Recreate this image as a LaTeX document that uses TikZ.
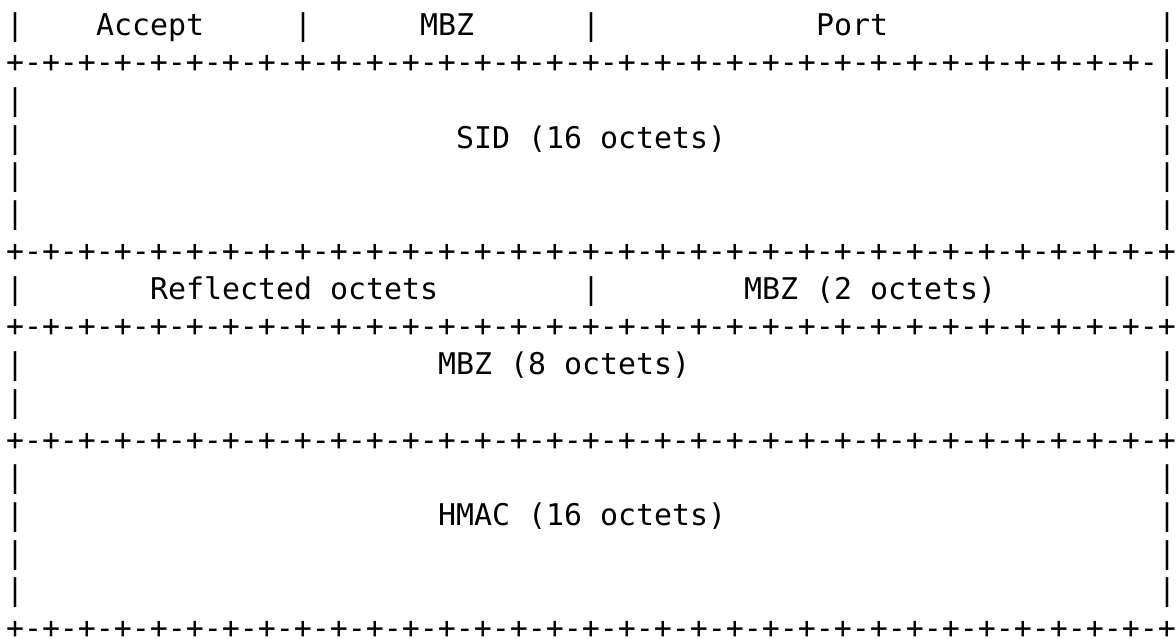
\documentclass[tikz,border=0pt]{standalone}
\usepackage{fontspec}
\newfontfamily\asciifont{DejaVu Sans Mono}
\newcommand\pdeight{+-+-+-+-+-+-+-+-}
\begin{document}
\begin{tikzpicture}[
  asc/.style={anchor=base west, inner sep=0pt, outer sep=0pt,
    font=\asciifont\fontsize{14.95pt}{18.87pt}\selectfont, text=black}
]
\useasboundingbox (0,0) rectangle (588pt,-319pt);
\begin{scope}[shift={(3pt,-17.5pt)}, x=9pt, y=-18.865pt]
  % vertical bars at the edges
  \foreach \r in {0,2,3,4,5,7,9,10,12,13,14,15} {
    \node[asc] (lb\r) at (0,\r) {|};
    \node[asc] (rb\r) at (64,\r) {|};
  }
  % row 0
  \node[asc] (accept) at (5,0) {Accept};
  \node[asc] (bar0a) at (16,0) {|};
  \node[asc] (mbzA) at (23,0) {MBZ};
  \node[asc] (bar0b) at (32,0) {|};
  \node[asc] (port) at (45,0) {Port};
  % row 1
  \node[asc] (sep1) at (0,1) {\pdeight\pdeight\pdeight\pdeight|};
  % SID
  \node[asc] (sid) at (25,3) {SID (16 octets)};
  \node[asc] (sep6) at (0,6) {\pdeight\pdeight\pdeight\pdeight+};
  % row 7
  \node[asc] (refl) at (8,7) {Reflected octets};
  \node[asc] (bar7) at (32,7) {|};
  \node[asc] (mbzB) at (41,7) {MBZ (2 octets)};
  \node[asc] (sep8) at (0,8) {\pdeight\pdeight\pdeight\pdeight+};
  % row 9
  \node[asc] (mbzC) at (24,9) {MBZ (8 octets)};
  \node[asc] (sep11) at (0,11) {\pdeight\pdeight\pdeight\pdeight+};
  % HMAC
  \node[asc] (hmac) at (24,13) {HMAC (16 octets)};
  \node[asc] (sep16) at (0,16) {\pdeight\pdeight\pdeight\pdeight+};
\end{scope}
\end{tikzpicture}
\end{document}
